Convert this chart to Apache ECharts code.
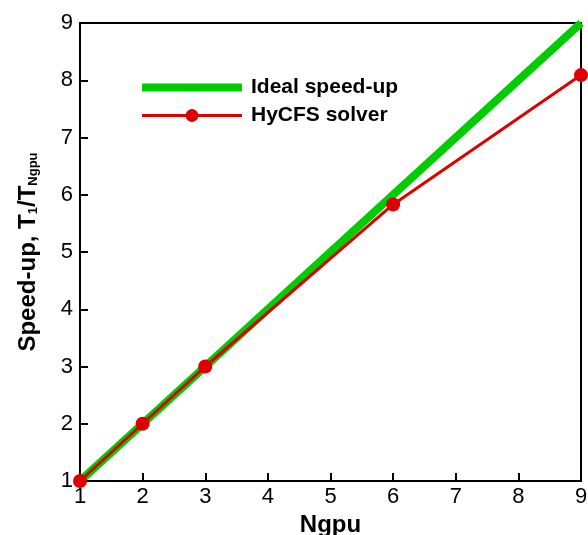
<!DOCTYPE html>
<html>
<head>
    <meta charset="UTF-8">
    <title>Speed-up</title>
    <style>
        html, body { margin: 0; padding: 0; background: #fff; }
        #main { width: 588px; height: 535px; }
    </style>
</head>
<body>
    <div id="main"></div>
    <script src="https://cdn.jsdelivr.net/npm/echarts@6/dist/echarts.min.js"></script>
    <script type="text/javascript">
        // data
        let idealX = [1, 9];
        let idealY = [1, 9];
        let ngpu = [1, 2, 3, 6, 9];
        let speedup = [1, 2, 3, 5.83, 8.09];
        let xTicks = [1, 2, 3, 4, 5, 6, 7, 8, 9];

        let font = '"Liberation Sans", Arial, sans-serif';
        let myChart = echarts.init(document.getElementById('main'));

        myChart.setOption({
            animation: false,
            textStyle: { fontFamily: font },
            grid: {
                left: 80, right: 7, top: 23, bottom: 54,
                outerBoundsMode: 'none',
                containLabel: false,
                show: true,
                borderColor: '#000',
                borderWidth: 2
            },
            legend: {
                left: 133,
                top: 72,
                orient: 'vertical',
                itemWidth: 100,
                itemHeight: 16,
                itemGap: 7,
                textStyle: { fontSize: 21, fontWeight: 'bold', color: '#000', fontFamily: font, padding: [0, 0, 0, 4] },
                data: [{
                    name: 'Ideal speed-up',
                    itemStyle: { opacity: 0 },
                    lineStyle: { width: 8, color: '#00cc00' }
                }, {
                    name: 'HyCFS solver',
                    lineStyle: { width: 3, color: '#dd0000' }
                }]
            },
            xAxis: {
                type: 'value',
                min: xTicks[0],
                max: xTicks[xTicks.length - 1],
                interval: 1,
                name: 'Ngpu',
                nameLocation: 'middle',
                nameGap: 30,
                nameTextStyle: { fontSize: 24, fontWeight: 'bold', color: '#000', fontFamily: font },
                axisLine: { lineStyle: { color: '#000', width: 2 } },
                axisTick: { inside: true, length: 8, lineStyle: { color: '#000', width: 2 } },
                axisLabel: { fontSize: 22, color: '#000', margin: 5, fontFamily: font },
                splitLine: { show: false }
            },
            yAxis: {
                type: 'value',
                min: 1,
                max: 9,
                interval: 1,
                name: 'Speed-up, T{sub|1}/T{sub|Ngpu}',
                nameLocation: 'middle',
                nameGap: 40,
                nameTextStyle: {
                    fontSize: 24, fontWeight: 'bold', color: '#000', fontFamily: font,
                    rich: {
                        sub: { fontSize: 13, fontWeight: 'bold', color: '#000', fontFamily: font, verticalAlign: 'bottom', padding: [9, 0, 0, 0] }
                    }
                },
                axisLine: { lineStyle: { color: '#000', width: 2 } },
                axisTick: { inside: true, length: 8, lineStyle: { color: '#000', width: 2 } },
                axisLabel: { fontSize: 22, color: '#000', margin: 7, fontFamily: font },
                splitLine: { show: false }
            },
            series: [{
                name: 'Ideal speed-up',
                type: 'line',
                data: idealX.map((x, i) => [x, idealY[i]]),
                showSymbol: false,
                symbol: 'none',
                lineStyle: { color: '#00cc00', width: 8 },
                itemStyle: { color: '#00cc00' }
            }, {
                name: 'HyCFS solver',
                type: 'line',
                data: ngpu.map((x, i) => [x, speedup[i]]),
                symbol: 'circle',
                symbolSize: 14,
                lineStyle: { color: '#dd0000', width: 3 },
                itemStyle: { color: '#dd0000' }
            }]
        });
    </script>
</body>
</html>
